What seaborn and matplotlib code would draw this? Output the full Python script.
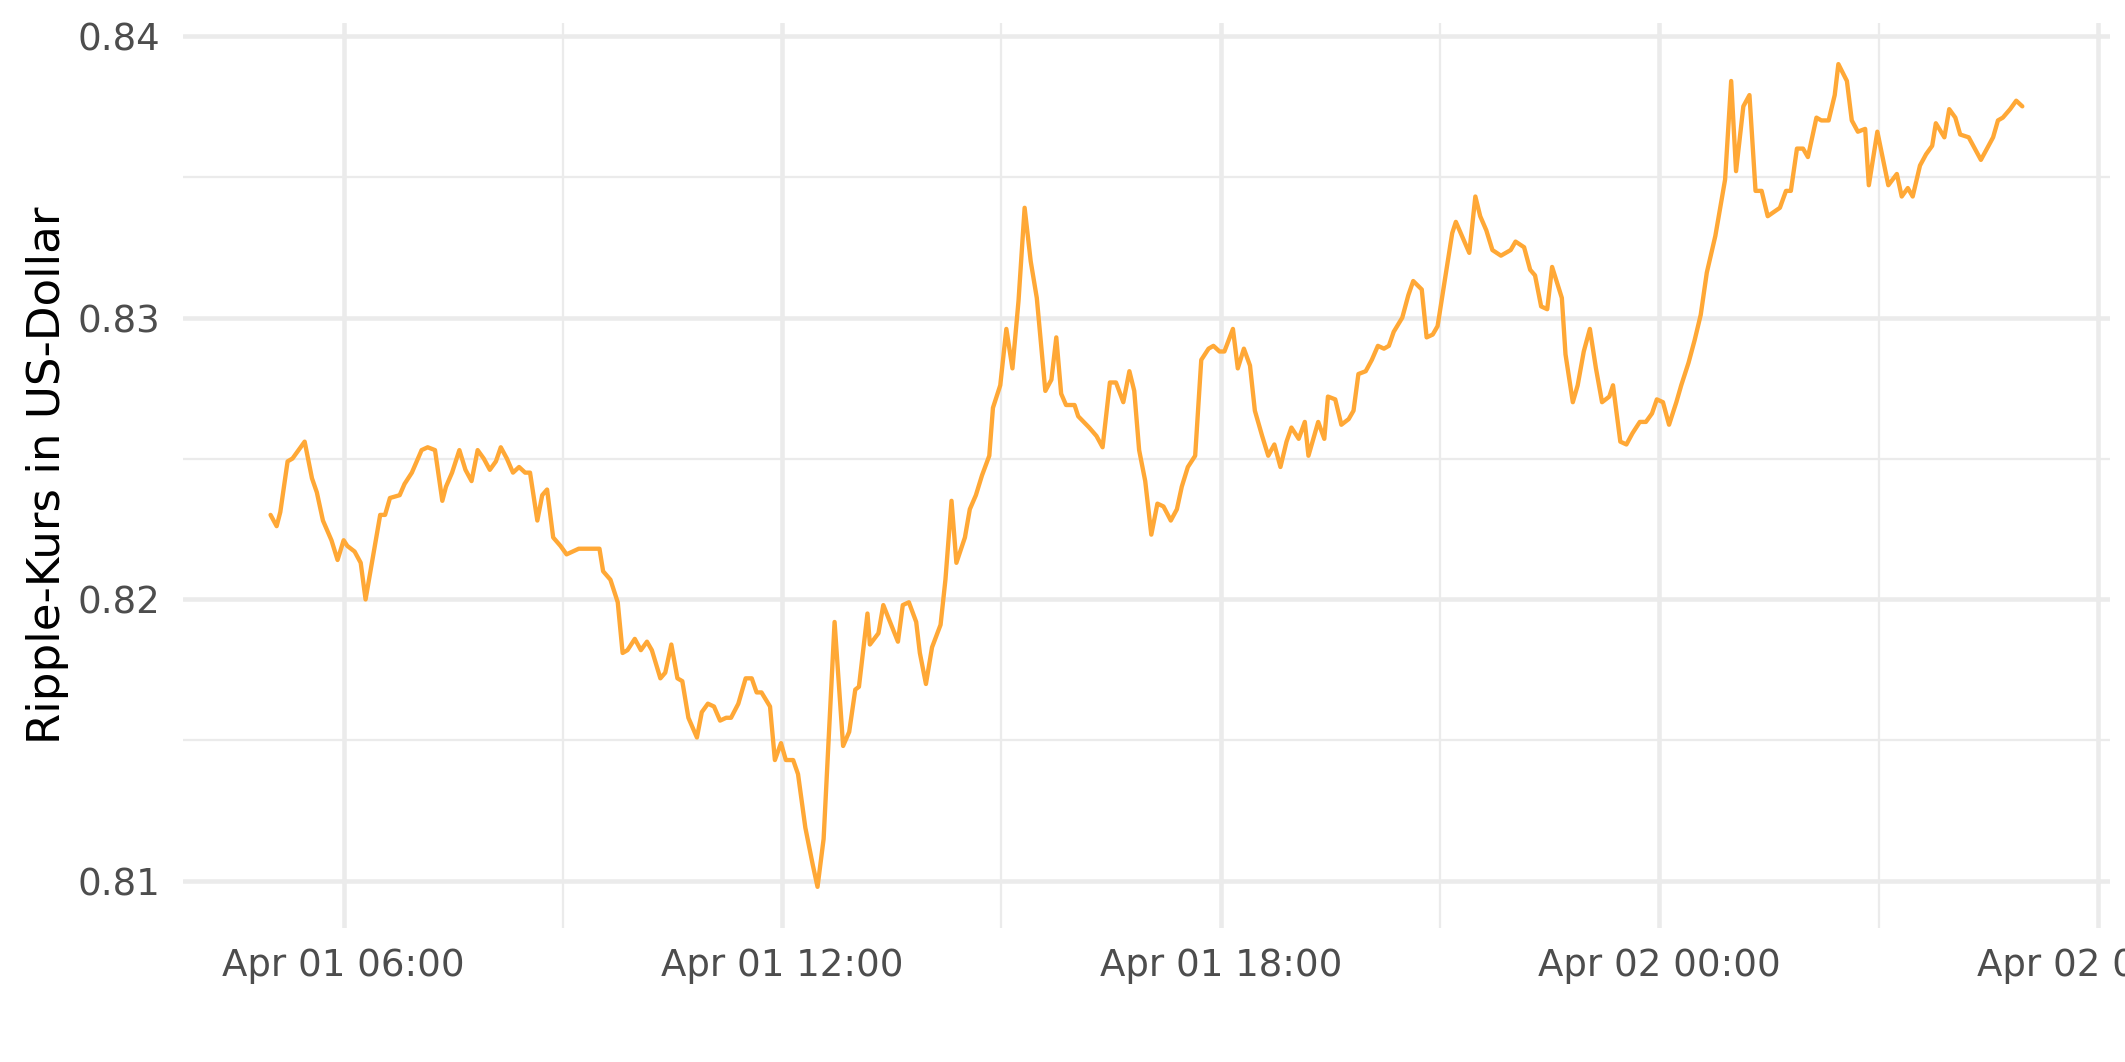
import matplotlib
matplotlib.use("Agg")

import pandas as pd
import matplotlib.pyplot as plt
import matplotlib.dates as mdates
from matplotlib.ticker import MultipleLocator, FormatStrFormatter
import seaborn as sns


START = pd.Timestamp("2021-04-01 05:00")

# minutes after START
minutes = [
    0, 5, 8, 14, 18, 23, 28, 34, 38, 43, 50, 55, 60, 63, 69, 74, 78, 84, 90, 94,
    98, 106, 110, 116, 124, 129, 135, 141, 144, 149, 155, 160, 165, 170, 175, 180,
    185, 189, 194, 199, 204, 209, 213, 219, 223, 227, 232, 238, 243, 253, 270, 273,
    279,
    285, 289, 293, 299, 304, 309, 313, 320, 324, 329, 334, 338, 343, 350, 354, 359,
    364, 369, 374, 378, 384, 390, 395, 399, 403, 410, 414, 419, 423, 429, 433, 439,
    445, 449, 454, 463, 470, 475, 480, 483, 490, 492, 499, 503, 515, 519, 524, 530,
    533, 538, 543, 550, 554, 559, 563,
    570, 574, 579, 584, 590, 593, 599, 604, 609, 614, 619, 624, 629, 636, 641, 645,
    649, 653, 660, 663, 672, 678, 683, 689, 694, 700, 705, 709, 713, 718, 723, 728,
    733, 739, 744, 748, 753, 759, 764, 770, 774, 779, 783, 790, 794, 799, 804, 808,
    814, 819, 824, 829, 834, 838, 844, 849, 852,
    860, 865, 868, 874, 879, 885, 889, 893, 899, 904, 909, 914, 918, 922, 929, 934,
    938, 945, 949, 954, 958, 962, 970, 973, 984, 989, 993, 998, 1003, 1010, 1018,
    1022, 1029, 1034, 1038, 1043, 1048, 1052, 1060, 1063, 1069, 1073, 1078, 1083,
    1088, 1093, 1099, 1102, 1108, 1113, 1118, 1124, 1129, 1134, 1138,
    1143, 1148, 1154, 1158, 1164, 1169, 1174, 1179, 1186, 1190, 1194, 1199, 1203,
    1209, 1214, 1219, 1224, 1229, 1239, 1244, 1248, 1253, 1258, 1262, 1269, 1273,
    1279, 1284, 1287, 1294, 1298, 1303, 1309, 1312, 1319, 1328, 1335, 1339, 1344,
    1348, 1354, 1359, 1364, 1367, 1374, 1378, 1383, 1387, 1394, 1399, 1404, 1409,
    1414, 1418, 1422, 1428, 1433, 1438,
]

price = [
    0.8230, 0.8226, 0.8231, 0.8249, 0.8250, 0.8253, 0.8256, 0.8243, 0.8238, 0.8228,
    0.8221, 0.8214, 0.8221, 0.8219, 0.8217, 0.8213, 0.8200, 0.8215, 0.8230, 0.8230,
    0.8236, 0.8237, 0.8241, 0.8245, 0.8253, 0.8254, 0.8253, 0.8235, 0.8240, 0.8245,
    0.8253, 0.8246, 0.8242, 0.8253, 0.8250, 0.8246, 0.8249, 0.8254, 0.8250, 0.8245,
    0.8247, 0.8245, 0.8245, 0.8228, 0.8237, 0.8239, 0.8222, 0.8219, 0.8216, 0.8218,
    0.8218, 0.8210, 0.8207,
    0.8199, 0.8181, 0.8182, 0.8186, 0.8182, 0.8185, 0.8182, 0.8172, 0.8174, 0.8184,
    0.8172, 0.8171, 0.8158, 0.8151, 0.8160, 0.8163, 0.8162, 0.8157, 0.8158, 0.8158,
    0.8163, 0.8172, 0.8172, 0.8167, 0.8167, 0.8162, 0.8143, 0.8149, 0.8143, 0.8143,
    0.8138, 0.8119, 0.8106, 0.8098, 0.8115, 0.8192, 0.8148, 0.8153, 0.8168, 0.8169,
    0.8195, 0.8184, 0.8188, 0.8198, 0.8185, 0.8198, 0.8199, 0.8192, 0.8181, 0.8170,
    0.8183, 0.8191, 0.8207, 0.8235, 0.8213,
    0.8222, 0.8232, 0.8237, 0.8244, 0.8251, 0.8268, 0.8276, 0.8296, 0.8282, 0.8306,
    0.8339, 0.8320, 0.8307, 0.8274, 0.8278, 0.8293, 0.8273, 0.8269, 0.8269, 0.8265,
    0.8261, 0.8258, 0.8254, 0.8277, 0.8277, 0.8270, 0.8281, 0.8274, 0.8253, 0.8242,
    0.8223, 0.8234, 0.8233, 0.8228, 0.8232, 0.8240, 0.8247, 0.8251, 0.8285, 0.8289,
    0.8290, 0.8288, 0.8288, 0.8296, 0.8282, 0.8289, 0.8283, 0.8267, 0.8258, 0.8251,
    0.8255, 0.8247, 0.8256, 0.8261, 0.8257, 0.8263, 0.8251,
    0.8263, 0.8257, 0.8272, 0.8271, 0.8262, 0.8264, 0.8267, 0.8280, 0.8281, 0.8285,
    0.8290, 0.8289, 0.8290, 0.8295, 0.8300, 0.8308, 0.8313, 0.8310, 0.8293, 0.8294,
    0.8297, 0.8308, 0.8330, 0.8334, 0.8323, 0.8343, 0.8336, 0.8331, 0.8324, 0.8322,
    0.8324, 0.8327, 0.8325, 0.8317, 0.8315, 0.8304, 0.8303, 0.8318, 0.8307, 0.8287,
    0.8270, 0.8276, 0.8288, 0.8296, 0.8282, 0.8270, 0.8272, 0.8276, 0.8256, 0.8255,
    0.8259, 0.8263, 0.8263, 0.8266, 0.8271,
    0.8270, 0.8262, 0.8270, 0.8276, 0.8284, 0.8292, 0.8301, 0.8316, 0.8329, 0.8339,
    0.8349, 0.8384, 0.8352, 0.8375, 0.8379, 0.8345, 0.8345, 0.8336, 0.8339, 0.8345,
    0.8345, 0.8360, 0.8360, 0.8357, 0.8371, 0.8370, 0.8370, 0.8379, 0.8390, 0.8384,
    0.8370, 0.8366, 0.8367, 0.8347, 0.8366, 0.8347, 0.8351, 0.8343, 0.8346, 0.8343,
    0.8354, 0.8358, 0.8361, 0.8369, 0.8364, 0.8374, 0.8371, 0.8365, 0.8364, 0.8360,
    0.8356, 0.8360, 0.8364, 0.8370, 0.8371, 0.8374, 0.8377, 0.8375,
]


df = pd.DataFrame({
    "zeit": START + pd.to_timedelta(minutes, unit="m"),
    "kurs": price,
})


# Style

sns.set_style("white")
plt.rcParams["font.family"] = ["DejaVu Sans"]

fig = plt.figure(figsize=(8.5, 4.248), dpi=250)
ax = fig.add_axes([0.0861, 0.1262, 0.9068, 0.8522])

sns.lineplot(
    data=df,
    x="zeit",
    y="kurs",
    color="#FFA836",
    linewidth=1.25,
    ax=ax
)


# Axes

span = df["zeit"].max() - df["zeit"].min()
pad = span * 0.05
ax.set_xlim(df["zeit"].min() - pad, df["zeit"].max() + pad)

lo, hi = min(price), max(price)
ax.set_ylim(lo - (hi - lo) * 0.05, hi + (hi - lo) * 0.05)

ax.xaxis.set_major_locator(mdates.HourLocator(byhour=[0, 6, 12, 18]))
ax.xaxis.set_minor_locator(mdates.HourLocator(byhour=[3, 9, 15, 21]))
ax.xaxis.set_major_formatter(mdates.DateFormatter("%b %d %H:%M"))

ax.yaxis.set_major_locator(MultipleLocator(0.01))
ax.yaxis.set_minor_locator(MultipleLocator(0.005))
ax.yaxis.set_major_formatter(FormatStrFormatter("%.2f"))

ax.grid(which="major", color="#EBEBEB", linewidth=1.3)
ax.grid(which="minor", color="#EBEBEB", linewidth=0.65)
ax.set_axisbelow(True)

for spine in ax.spines.values():
    spine.set_visible(False)

ax.tick_params(which="both", length=0)
ax.tick_params(axis="both", labelsize=10.7, labelcolor="#4D4D4D")
ax.tick_params(axis="y", pad=6.5)
ax.tick_params(axis="x", pad=5.5)

ax.set_xlabel("")
ax.set_ylabel("Ripple-Kurs in US-Dollar", fontsize=13, color="black")
ax.yaxis.set_label_coords(-0.059, 0.5)

fig.savefig("out.png", dpi=250)
plt.close(fig)
